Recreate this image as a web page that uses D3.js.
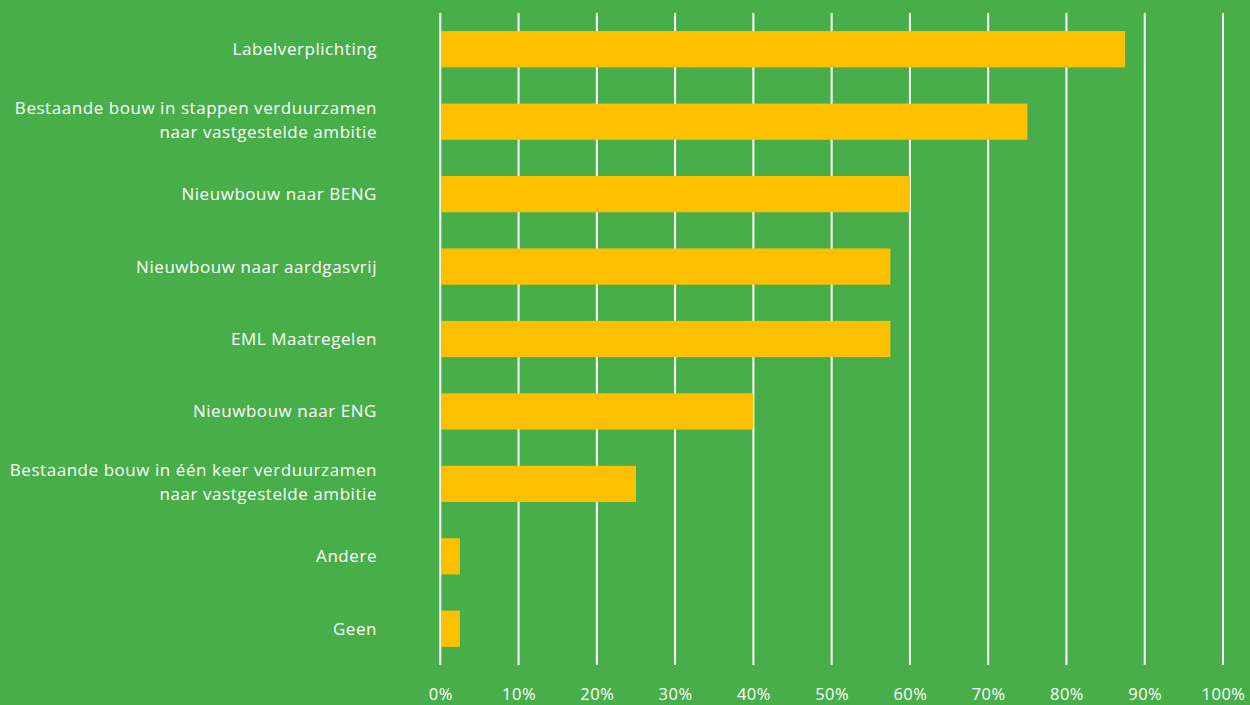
<!DOCTYPE html>
<html>
<head>
<meta charset="utf-8">
<script src="https://cdn.jsdelivr.net/npm/d3@7"></script>
<style>
    html, body { margin: 0; padding: 0; background: #48ae4a; }
    svg { display: block; }
    text { fill: #ffffff; }
</style>
</head>
<body>
<svg id="chart"></svg>
<script>
// Categories (top to bottom), values in percent
const categories = [
    ["Labelverplichting"],
    ["Bestaande bouw in stappen verduurzamen", "naar vastgestelde ambitie"],
    ["Nieuwbouw naar BENG"],
    ["Nieuwbouw naar aardgasvrij"],
    ["EML Maatregelen"],
    ["Nieuwbouw naar ENG"],
    ["Bestaande bouw in één keer verduurzamen", "naar vastgestelde ambitie"],
    ["Andere"],
    ["Geen"]
];
const values = [87.5, 75, 60, 57.5, 57.5, 40, 25, 2.5, 2.5];
const tickValues = [0, 10, 20, 30, 40, 50, 60, 70, 80, 90, 100];

const width = 1250, height = 705;
const margin = {top: 13, right: 27, bottom: 40, left: 440.3};

const svg = d3.select("#chart")
    .attr("width", width)
    .attr("height", height);

svg.append("rect")
    .attr("width", width)
    .attr("height", height)
    .attr("fill", "#48ae4a");

const xScale = d3.scaleLinear()
    .domain([0, 100])
    .range([margin.left, 1223]);

const yScale = d3.scaleBand()
    .domain(d3.range(categories.length))
    .range([margin.top, height - margin.bottom])
    .paddingInner(0.5)
    .paddingOuter(0.25);

// vertical grid lines
svg.append("g")
    .selectAll("line")
    .data(tickValues)
    .enter()
    .append("line")
    .attr("x1", d => xScale(d))
    .attr("x2", d => xScale(d))
    .attr("y1", margin.top)
    .attr("y2", height - margin.bottom)
    .attr("stroke", "#ffffff")
    .attr("stroke-width", 2);

// bars
svg.append("g")
    .selectAll("rect")
    .data(values)
    .enter()
    .append("rect")
    .attr("x", xScale(0) + 1)
    .attr("y", (d, i) => yScale(i))
    .attr("width", d => xScale(d) - xScale(0) - 1)
    .attr("height", yScale.bandwidth())
    .attr("fill", "#ffc000");

// x axis labels
const xAxis = svg.append("g")
    .attr("transform", "translate(0," + (height - margin.bottom) + ")")
    .call(d3.axisBottom(xScale).tickValues(tickValues).tickSize(0).tickPadding(23).tickFormat(d => d + "%"));
xAxis.select(".domain").remove();
xAxis.selectAll("text")
    .attr("font-family", "'Open Sans', sans-serif")
    .attr("font-size", 16.5)
    .attr("letter-spacing", 0.5)
    .attr("fill", "#ffffff");

// category labels
const labels = svg.append("g")
    .selectAll("text")
    .data(categories)
    .enter()
    .append("text")
    .attr("x", 377)
    .attr("y", (d, i) => yScale(i) + yScale.bandwidth() / 2)
    .attr("text-anchor", "end")
    .attr("font-family", "'Open Sans', sans-serif")
    .attr("font-size", 17)
    .attr("letter-spacing", 0.55);

labels.each(function (lines) {
    const el = d3.select(this);
    const offset = lines.length > 1 ? -(lines.length - 1) / 2 * 24 - 2 : 0;
    lines.forEach((line, j) => {
        el.append("tspan")
            .attr("x", 377)
            .attr("dy", j === 0 ? offset + 6 : 24)
            .text(line);
    });
});
</script>
</body>
</html>
